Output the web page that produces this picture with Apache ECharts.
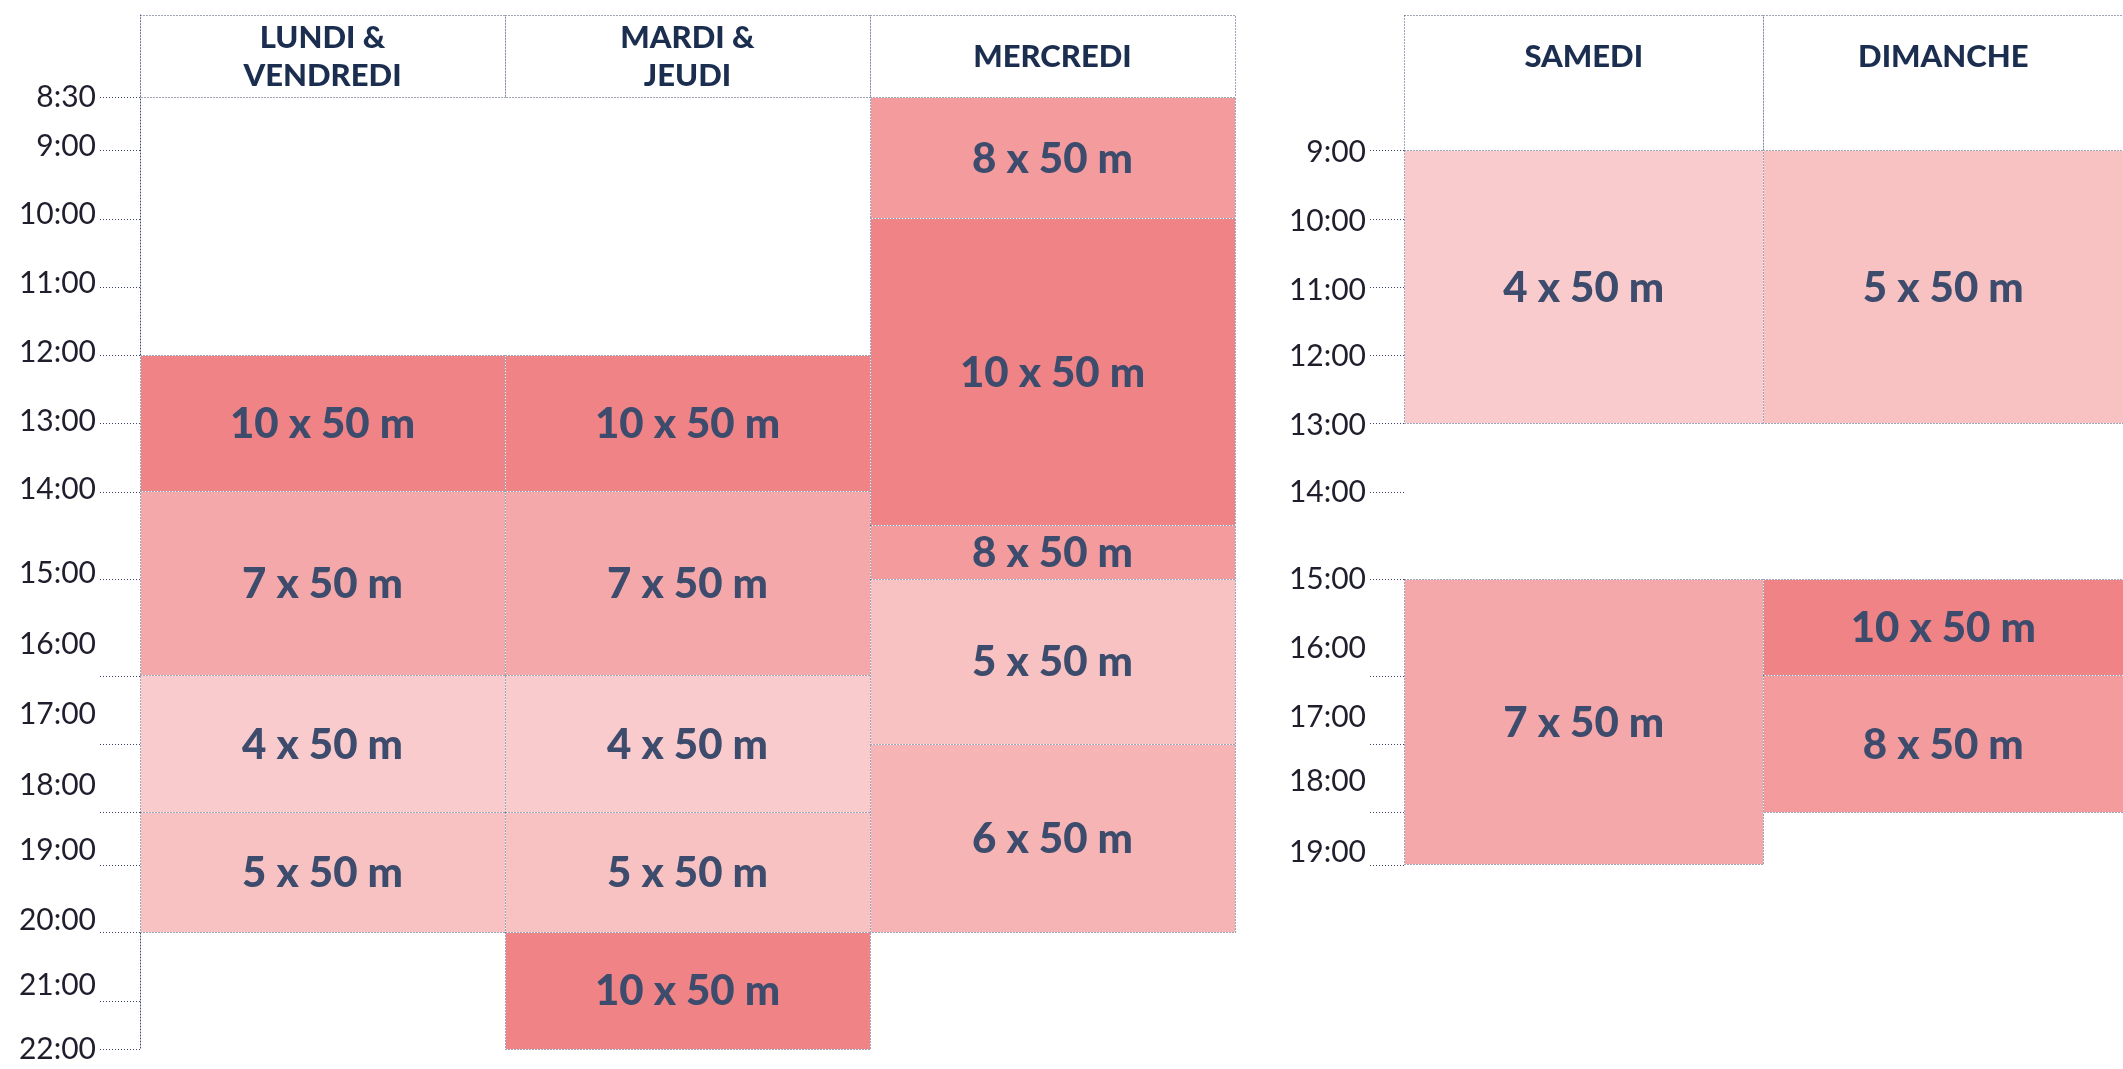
<!DOCTYPE html>
<html>
<head>
<meta charset="utf-8">
<title>Horaires des entraînements</title>
<script src="https://cdn.jsdelivr.net/npm/echarts@6/dist/echarts.min.js"></script>
<style>
  html, body { margin: 0; padding: 0; background: #fff; }
  #chart { width: 2123px; height: 1069px; }
</style>
</head>
<body>
<div id="chart"></div>
<script>
// colonnes
const weekDays = ['LUNDI &\nVENDREDI', 'MARDI &\nJEUDI', 'MERCREDI'];
const weekendDays = ['SAMEDI', 'DIMANCHE'];

// créneaux : [colonne, début, fin, nombre de 50 m]
// début / fin = position sur l'échelle verticale du tableau (heures)
const weekSessions = [
  [0, 12.00, 14.00, 10],
  [0, 14.00, 16.70, 7],
  [0, 16.70, 18.70, 4],
  [0, 18.70, 20.46, 5],
  [1, 12.00, 14.00, 10],
  [1, 14.00, 16.70, 7],
  [1, 16.70, 18.70, 4],
  [1, 18.70, 20.46, 5],
  [1, 20.46, 22.17, 10],
  [2, 8.22, 10.00, 8],
  [2, 10.00, 14.50, 10],
  [2, 14.50, 15.28, 8],
  [2, 15.28, 17.70, 5],
  [2, 17.70, 20.46, 6]
];
const weekendSessions = [
  [0, 9.00, 13.00, 4],
  [0, 15.28, 19.47, 7],
  [1, 9.00, 13.00, 5],
  [1, 15.28, 16.70, 10],
  [1, 16.70, 18.70, 8]
];

// graduations de gauche (semaine)
const weekLabels = ['8:30', '9:00', '10:00', '11:00', '12:00', '13:00', '14:00', '15:00',
  '16:00', '17:00', '18:00', '19:00', '20:00', '21:00', '22:00'];
const weekLabelPos = [8.21, 8.93, 9.93, 10.94, 11.95, 12.97, 13.97, 15.20,
  16.23, 17.27, 18.30, 19.25, 20.29, 21.23, 22.17];
const weekTickPos = [8.22, 9, 10, 11, 12, 13, 14, 15.28, 16.70, 17.70, 18.70, 19.47, 20.46, 21.47, 22.17];

// graduations de droite (week-end)
const weekendLabels = ['9:00', '10:00', '11:00', '12:00', '13:00', '14:00', '15:00',
  '16:00', '17:00', '18:00', '19:00'];
const weekendLabelPos = [9.03, 10.04, 11.04, 12.02, 13.02, 14.01, 15.29, 16.30, 17.30, 18.25, 19.28];
const weekendTickPos = [9, 10, 11, 12, 13, 14, 15.28, 16.70, 17.70, 18.70, 19.47];

// en-têtes
const weekHeaderEnd = 8.22;
const weekendHeaderEnd = 9;
const headerTitlePos = 7.62;

const yMin = 7.01;
const yMax = 22.17;

const shades = {10: '#F08385', 8: '#F49B9D', 7: '#F5A8A9', 6: '#F6B4B5', 5: '#F8C2C3', 4: '#F9CBCD'};
const dotColor = '#3c466c';
const blockText = '#3d4c6c';
const headText = '#1c2e50';

function labelFor(labels, pos) {
  return function (val) {
    for (let i = 0; i < pos.length; i++) {
      if (Math.abs(pos[i] - val) < 1e-6) return labels[i];
    }
    return '';
  };
}

// bords nets pour les pointillés de 1 px
function snap(v) {
  return Math.round(v - 0.5) + 0.5;
}

function cellShape(a, b) {
  const x0 = snap(a[0]), y0 = snap(a[1]);
  return {x: x0, y: y0, width: snap(b[0]) - x0, height: snap(b[1]) - y0};
}

function renderSession(params, api) {
  const col = api.value(0);
  const reps = api.value(3);
  const a = api.coord([col, api.value(1)]);
  const b = api.coord([col + 1, api.value(2)]);
  const shape = cellShape(a, b);
  return {
    type: 'group',
    children: [
      {type: 'rect', shape: shape, style: {fill: shades[reps], stroke: '#fff', lineWidth: 1}},
      {type: 'rect', shape: shape, style: {fill: 'none', stroke: dotColor, lineWidth: 1, lineDash: [1, 2]}},
      {
        type: 'text',
        x: (a[0] + b[0]) / 2,
        y: (a[1] + b[1]) / 2 + 1,
        style: {
          text: reps + ' x 50 m',
          fill: blockText,
          font: '900 42px Lato',
          align: 'center',
          verticalAlign: 'middle'
        }
      }
    ]
  };
}

function headerRenderer(names, bottom) {
  return function (params, api) {
    const col = api.value(0);
    const a = api.coord([col, yMin]);
    const b = api.coord([col + 1, bottom]);
    const t = api.coord([col + 0.5, headerTitlePos]);
    return {
      type: 'group',
      children: [
        {type: 'rect', shape: cellShape(a, b), style: {fill: '#fff', stroke: dotColor, lineWidth: 1, lineDash: [1, 2]}},
        {
          type: 'text',
          x: t[0],
          y: t[1],
          style: {
            text: names[params.dataIndex],
            fill: headText,
            font: '900 31px Lato',
            lineHeight: 38,
            align: 'center',
            verticalAlign: 'middle'
          }
        }
      ]
    };
  };
}

function timeAxis(gridIndex, labels, labelPos, tickPos, showLine, tickLen, margin) {
  return {
    type: 'value',
    gridIndex: gridIndex,
    inverse: true,
    min: yMin,
    max: yMax,
    splitLine: {show: false},
    axisLine: {show: showLine, lineStyle: {color: dotColor, width: 1, type: [1, 2]}},
    axisTick: {
      show: true,
      length: tickLen,
      customValues: tickPos,
      lineStyle: {color: dotColor, width: 1, type: [1, 2]}
    },
    axisLabel: {
      customValues: labelPos,
      formatter: labelFor(labels, labelPos),
      margin: margin,
      color: '#1e1e2c',
      fontFamily: 'Lato',
      fontSize: 30
    }
  };
}

const chart = echarts.init(document.getElementById('chart'));
chart.setOption({
  animation: false,
  grid: [
    {left: 140, top: 15, width: 1095, height: 1034},
    {left: 1404, top: 15, width: 732, height: 1034}
  ],
  xAxis: [
    {type: 'value', gridIndex: 0, min: 0, max: 3, show: false},
    {type: 'value', gridIndex: 1, min: 0, max: 2, show: false}
  ],
  yAxis: [
    timeAxis(0, weekLabels, weekLabelPos, weekTickPos, true, 41, 44),
    timeAxis(1, weekendLabels, weekendLabelPos, weekendTickPos, false, 34, 38)
  ],
  series: [
    {
      type: 'custom',
      xAxisIndex: 0,
      yAxisIndex: 0,
      silent: true,
      renderItem: headerRenderer(weekDays, weekHeaderEnd),
      data: weekDays.map((d, i) => [i])
    },
    {
      type: 'custom',
      xAxisIndex: 0,
      yAxisIndex: 0,
      silent: true,
      renderItem: renderSession,
      data: weekSessions
    },
    {
      type: 'custom',
      xAxisIndex: 1,
      yAxisIndex: 1,
      silent: true,
      renderItem: headerRenderer(weekendDays, weekendHeaderEnd),
      data: weekendDays.map((d, i) => [i])
    },
    {
      type: 'custom',
      xAxisIndex: 1,
      yAxisIndex: 1,
      silent: true,
      renderItem: renderSession,
      data: weekendSessions
    }
  ]
});
</script>
</body>
</html>
